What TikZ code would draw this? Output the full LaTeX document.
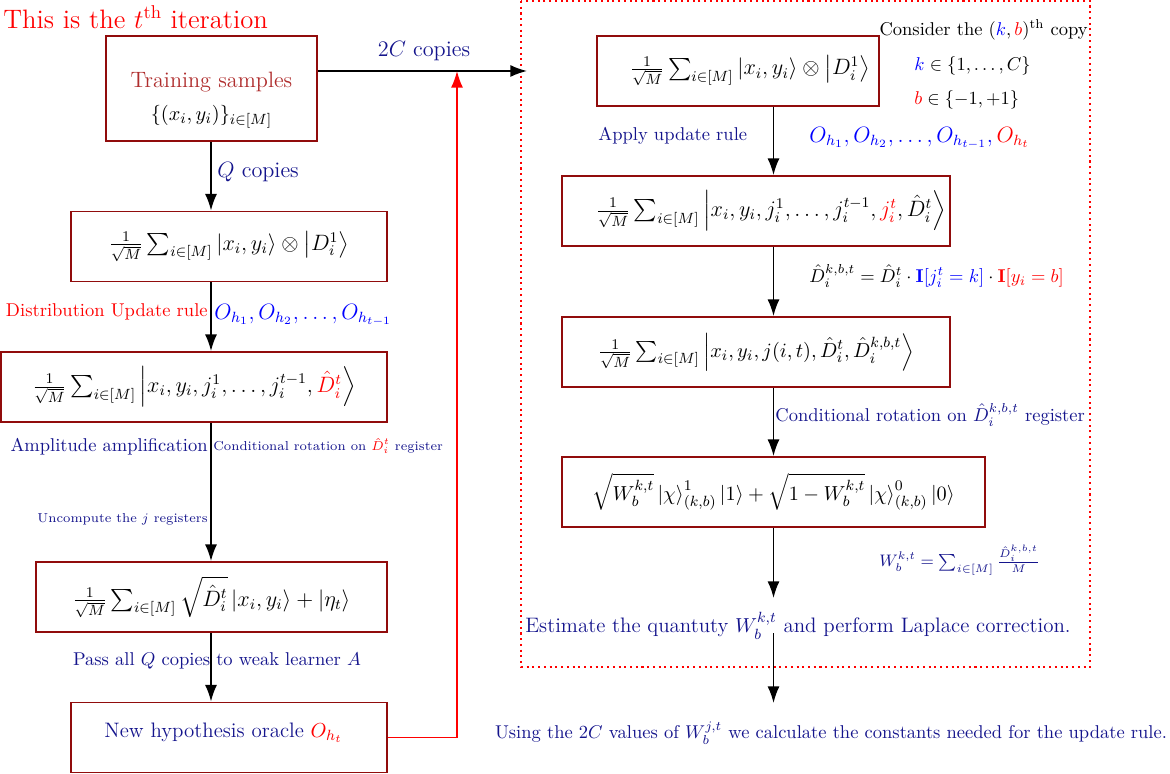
\documentclass[tikz,border=0pt]{standalone}
\usepackage{amsmath,amssymb}
\usetikzlibrary{arrows.meta}
\definecolor{boxred}{RGB}{145,12,12}
\definecolor{navytext}{RGB}{20,20,140}
\definecolor{trainred}{RGB}{175,45,45}
\begin{document}
\begin{tikzpicture}[x=0.54pt,y=-0.54pt,
  qbox/.style={draw=boxred, line width=1pt, inner sep=0pt, align=center,
    minimum width=#1*0.54pt, minimum height=70*0.54pt, font=\large},
  flow/.style={line width=0.9pt, -{Latex[length=9pt,width=6.5pt]}},
  redflow/.style={red, line width=0.8pt, -{Latex[length=9pt,width=6.5pt]}},
  lbl/.style={inner sep=0pt, text=navytext}]
\useasboundingbox (0,0) rectangle (1170,774);

% frame of the (k,b) copy
\draw[red, dotted, line width=1.1pt] (521,1) rectangle (1090,667);

\node[anchor=west, red, font=\Large, inner sep=0pt] (title) at (3,17) {This is the $t^{\text{th}}$ iteration};

% left column
\node[qbox=211, minimum height=105*0.54pt, font=\normalsize] (train) at (211.5,88.5)
  {\rule{0pt}{21pt}{\large\color{trainred}Training samples}\\[5.8pt] {\fontsize{11}{13}\selectfont$\{(x_i,y_i)\}_{i\in[M]}$}};
\node[qbox=316] (b2) at (229,246.5)
  {$\frac{1}{\sqrt{M}}\sum_{i\in[M]}\left|x_i,y_i\right\rangle\otimes\bigl|D_i^1\bigr\rangle$};
\node[qbox=386] (b3) at (194,387)
  {$\frac{1}{\sqrt{M}}\sum_{i\in[M]}\left|x_i,y_i,j_i^1,\dots,j_i^{t-1},{\color{red}\hat{D}_i^t}\right\rangle$};
\node[qbox=351] (b4) at (211.5,597)
  {$\frac{1}{\sqrt{M}}\sum_{i\in[M]}\sqrt{\hat{D}_i^t}\left|x_i,y_i\right\rangle+\left|\eta_t\right\rangle$};
\node[qbox=316, text=navytext, font=\fontsize{11.3}{13}\selectfont] (b5) at (229,737.5)
  {\hspace*{-6pt}\rule[-8pt]{0pt}{8pt}New hypothesis oracle ${\color{red}O_{h_t}}$};

\coordinate (lx) at (211,0);
\draw[flow] (train.south -| lx) -- (b2.north -| lx);
\draw[flow] (b2.south -| lx) -- (b3.north -| lx);
\draw[flow] (b3.south -| lx) -- (b4.north -| lx);
\draw[flow] (b4.south -| lx) -- (b5.north -| lx);

\node[lbl, anchor=west, font=\large] (qc) at (217,172) {$Q$ copies};
\node[lbl, anchor=east, text=red] (dur) at (208,312) {Distribution Update rule};
\node[lbl, anchor=west, text=blue, font=\large] (ol) at (214,315) {$O_{h_1},O_{h_2},\dots,O_{h_{t-1}}$};
\node[lbl, anchor=east] (aa) at (208,447) {Amplitude amplification};
\node[lbl, anchor=west, font=\scriptsize] (cr1) at (213,446) {Conditional rotation on ${\color{red}\hat{D}_i^t}$ register};
\node[lbl, anchor=east, font=\scriptsize] (unc) at (208,519) {Uncompute the $j$ registers};
\node[lbl] (pass) at (217,661) {Pass all $Q$ copies to weak learner $A$};

% top connections
\coordinate (cpyend) at (527,71);
\coordinate (meet) at (457,71);
\draw[flow] (train.east |- cpyend) -- (cpyend);
\node[lbl, font=\large] (tc) at (424,51) {$2C$ copies};
\draw[redflow] (b5.east) -| (meet);

% right column
\node[qbox=282] (A) at (738,71)
  {\hspace*{13pt}$\frac{1}{\sqrt{M}}\sum_{i\in[M]}\left|x_i,y_i\right\rangle\otimes\bigl|D_i^1\bigr\rangle$};
\node[qbox=388] (B) at (756,211)
  {\hspace*{16pt}$\frac{1}{\sqrt{M}}\sum_{i\in[M]}\left|x_i,y_i,j_i^1,\dots,j_i^{t-1},{\color{red}j_i^t},\hat{D}_i^t\right\rangle$};
\node[qbox=388, font=\fontsize{11.3}{13}\selectfont] (C) at (756,352)
  {$\frac{1}{\sqrt{M}}\sum_{i\in[M]}\left|x_i,y_i,j(i,t),\hat{D}_i^t,\hat{D}_i^{k,b,t}\right\rangle$};
\node[qbox=423, font=\fontsize{11}{13}\selectfont] (D) at (773.5,492)
  {$\sqrt{W_b^{k,t}}\left|\chi\right\rangle_{(k,b)}^1\left|1\right\rangle+\sqrt{1-W_b^{k,t}}\left|\chi\right\rangle_{(k,b)}^0\left|0\right\rangle$};

\coordinate (rx) at (773.5,0);
\coordinate (e1) at (773.5,598);
\coordinate (e2) at (773.5,633);
\coordinate (e3) at (773.5,703);
\draw[flow] (A.south -| rx) -- (B.north -| rx);
\draw[flow] (B.south -| rx) -- (C.north -| rx);
\draw[flow] (C.south -| rx) -- (D.north -| rx);
\draw[flow] (D.south -| rx) -- (e1);
\draw[flow] (e2) -- (e3);

\node[inner sep=0pt, anchor=east] (cons) at (1088,30) {Consider the $({\color{blue}k},{\color{red}b})^{\text{th}}$ copy};
\node[inner sep=0pt, anchor=west] (kset) at (914,66) {${\color{blue}k}\in\{1,\dots,C\}$};
\node[inner sep=0pt, anchor=west] (bset) at (914,100) {${\color{red}b}\in\{-1,+1\}$};
\node[lbl, anchor=west] (aur) at (598,136) {Apply update rule};
\node[lbl, anchor=west, text=blue, font=\large] (ol2) at (809,138) {$O_{h_1},O_{h_2},\dots,O_{h_{t-1}},{\color{red}O_{h_t}}$};
\node[inner sep=0pt, anchor=west] (dk) at (809,276)
  {$\hat{D}_i^{k,b,t}=\hat{D}_i^t\cdot{\color{blue}\mathbf{I}[j_i^t=k]}\cdot{\color{red}\mathbf{I}[y_i=b]}$};
\node[lbl, anchor=west] (cr2) at (775,415) {Conditional rotation on $\hat{D}_i^{k,b,t}$ register};
\node[lbl, anchor=west, font=\small] (wf) at (879,560) {$W_b^{k,t}=\sum_{i\in[M]}\frac{\hat{D}_i^{k,b,t}}{M}$};
\node[lbl, font=\fontsize{11.3}{13.5}\selectfont] (est) at (798,626) {Estimate the quantuty $W_b^{k,t}$ and perform Laplace correction.};
\node[lbl] (use) at (831,733) {Using the $2C$ values of $W_b^{j,t}$ we calculate the constants needed for the update rule.};
\end{tikzpicture}
\end{document}
